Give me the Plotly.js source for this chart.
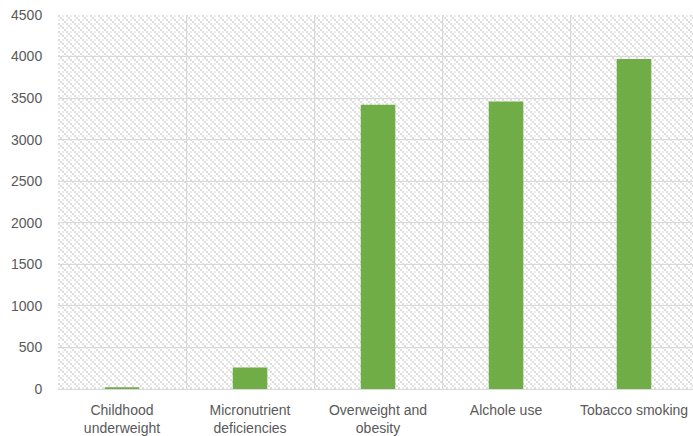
<!DOCTYPE html>
<html>
<head>
<meta charset="utf-8">
<script src="https://cdn.plot.ly/plotly-3.0.1.min.js"></script>
<style>
  html, body { margin: 0; padding: 0; background: #ffffff; overflow: hidden; }
  #chart { width: 700px; height: 436px; }
</style>
</head>
<body>
<div id="chart"></div>
<script>
// Risk factors and their values
const categories = [
  "Childhood<br>underweight",
  "Micronutrient<br>deficiencies",
  "Overweight and<br>obesity",
  "Alchole use",
  "Tobacco smoking"
];
const values = [20, 260, 3420, 3460, 3970];
const yTicks = [0, 500, 1000, 1500, 2000, 2500, 3000, 3500, 4000, 4500];

const margin = { l: 58, r: 2, t: 15, b: 47 };
const W = 700, H = 436;
const plotW = W - margin.l - margin.r;
const plotH = H - margin.t - margin.b;

// Downward-diagonal block hatch used as the plot-area fill
function hatchImage(w, h) {
  const c = document.createElement("canvas");
  c.width = w; c.height = h;
  const ctx = c.getContext("2d");
  ctx.fillStyle = "#ffffff";
  ctx.fillRect(0, 0, w, h);
  for (let y = 0; y < h; y += 2) {
    for (let x = 0; x < w; x += 2) {
      const bx = x >> 1, by = y >> 1;
      const d = (((bx - by) % 4) + 4) % 4;
      if (d === 0) {
        ctx.fillStyle = "#dcdcdc";
        ctx.fillRect(x, y, 2, 2);
      } else if (d === 2 && bx % 2 === 0) {
        ctx.fillStyle = "#ededed";
        ctx.fillRect(x, y, 2, 2);
      }
    }
  }
  return c.toDataURL("image/png");
}

const font = "Liberation Sans, Arial, sans-serif";

const trace = {
  type: "bar",
  x: categories,
  y: values,
  marker: { color: "#70ad47" },
  hoverinfo: "x+y"
};

const layout = {
  width: W,
  height: H,
  margin: margin,
  paper_bgcolor: "#ffffff",
  plot_bgcolor: "rgba(0,0,0,0)",
  bargap: 0.73,
  showlegend: false,
  font: { family: font, size: 14, color: "#595959" },
  images: [{
    source: hatchImage(plotW, plotH),
    xref: "paper", yref: "paper",
    x: 0, y: 1, sizex: 1, sizey: 1,
    xanchor: "left", yanchor: "top",
    sizing: "stretch",
    layer: "below"
  }],
  xaxis: {
    type: "category",
    tickson: "boundaries",
    showgrid: true,
    gridcolor: "#d9d9d9",
    gridwidth: 1,
    showline: false,
    ticks: "",
    ticklabelstandoff: 11,
    tickfont: { family: font, size: 14, color: "#595959" },
    fixedrange: true
  },
  yaxis: {
    range: [0, 4500],
    tickvals: yTicks,
    ticktext: yTicks.map(String),
    showgrid: true,
    gridcolor: "#d9d9d9",
    gridwidth: 1,
    zeroline: true,
    zerolinecolor: "#d9d9d9",
    zerolinewidth: 1,
    showline: false,
    ticks: "outside",
    ticklen: 12,
    tickcolor: "rgba(0,0,0,0)",
    tickfont: { family: font, size: 14, color: "#595959" },
    fixedrange: true
  }
};

Plotly.newPlot("chart", [trace], layout, { displayModeBar: false, staticPlot: true });
</script>
</body>
</html>
